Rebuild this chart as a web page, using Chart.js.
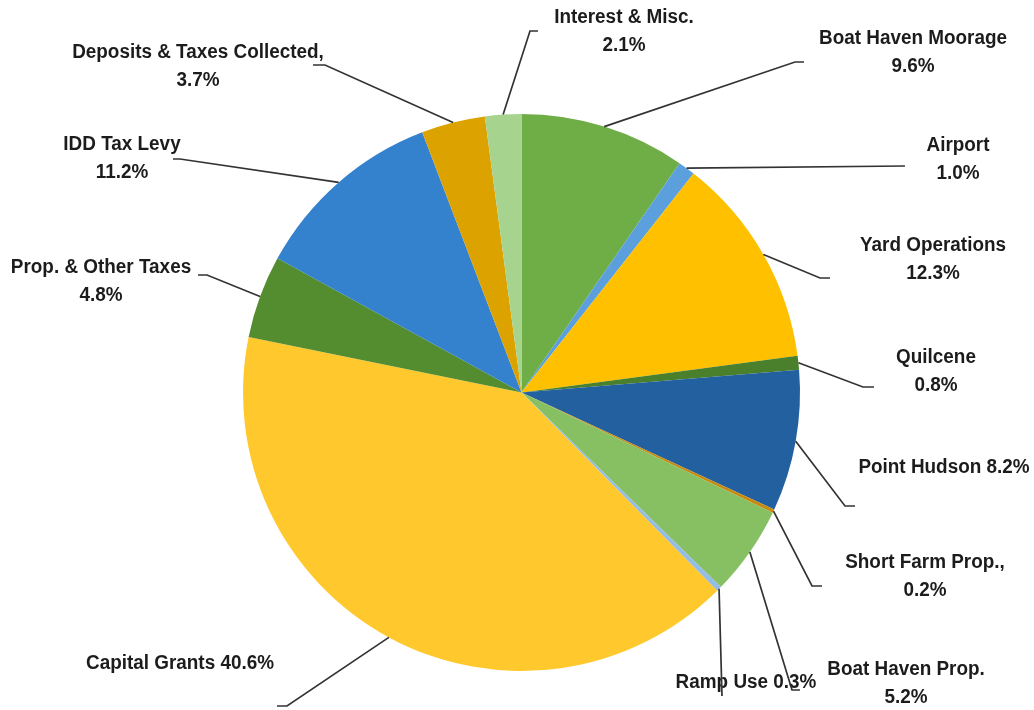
<!DOCTYPE html>
<html>
<head>
<meta charset="utf-8">
<title>Revenue Sources</title>
<script src="https://cdn.jsdelivr.net/npm/chart.js@4.4.1/dist/chart.umd.min.js"></script>
<style>
  html, body { margin: 0; padding: 0; background: #ffffff; }
  #wrap { width: 1034px; height: 710px; }
</style>
</head>
<body>
<div id="wrap"><canvas id="revenuePie" width="1034" height="710"></canvas></div>
<script>
// revenue shares, clockwise from 12 o'clock
const categories = [
  'Boat Haven Moorage', 'Airport', 'Yard Operations', 'Quilcene', 'Point Hudson',
  'Short Farm Prop.', 'Boat Haven Prop.', 'Ramp Use', 'Capital Grants',
  'Prop. & Other Taxes', 'IDD Tax Levy', 'Deposits & Taxes Collected', 'Interest & Misc.'
];
const shares = [9.6, 1.0, 12.3, 0.8, 8.2, 0.2, 5.2, 0.3, 40.6, 4.8, 11.2, 3.7, 2.1];
const sliceColors = [
  '#6fad46', '#5b9fdc', '#ffc000', '#4a7f2c', '#22609f', '#c98a10', '#86c062',
  '#93bde4', '#ffc92e', '#548c30', '#3481cd', '#dba200', '#a6d48f'
];

// where each callout goes: elbow of the leader, end of its short tail, text centre
const callouts = [
  { elbow: [795, 62],  tail: [804, 62],  at: [913, 38],  split: true },
  { elbow: [905, 166], tail: [905, 166], at: [958, 145], split: true },
  { elbow: [820, 278], tail: [830, 278], at: [933, 245], split: true },
  { elbow: [863, 387], tail: [874, 387], at: [936, 357], split: true },
  { elbow: [845, 506], tail: [855, 506], at: [944, 467], split: false },
  { elbow: [812, 586], tail: [822, 586], at: [925, 562], split: true, sep: ',' },
  { elbow: [792, 690], tail: [800, 690], at: [906, 669], split: true },
  { elbow: [722, 696], tail: [722, 696], at: [746, 682], split: false },
  { elbow: [287, 706], tail: [277, 706], at: [180, 663], split: false },
  { elbow: [207, 275], tail: [198, 275], at: [101, 267], split: true },
  { elbow: [180, 159], tail: [173, 159], at: [122, 144], split: true },
  { elbow: [325, 65],  tail: [313, 65],  at: [198, 52],  split: true, sep: ',' },
  { elbow: [530, 31],  tail: [538, 31],  at: [624, 17],  split: true }
];

// Liberation Sans squeezed a little sideways for a narrow bold look
const LABEL_FONT = 'bold 20px "Liberation Sans", Arial, sans-serif';
const SQUEEZE = 0.945;

function narrowText(ctx, text, x, y) {
  ctx.save();
  ctx.translate(x, y);
  ctx.scale(SQUEEZE, 1);
  ctx.fillText(text, 0, 0);
  ctx.restore();
}

const calloutPlugin = {
  id: 'callouts',
  afterDatasetsDraw(chart) {
    const ctx = chart.ctx;
    const arcs = chart.getDatasetMeta(0).data;
    ctx.save();
    ctx.font = LABEL_FONT;
    ctx.fillStyle = '#1c1c1c';
    ctx.textAlign = 'center';
    ctx.textBaseline = 'middle';
    arcs.forEach((arc, i) => {
      const c = callouts[i];
      const pct = shares[i].toFixed(1) + '%';
      const name = categories[i] + (c.sep || '');
      if (c.split) {
        narrowText(ctx, name, c.at[0], c.at[1]);
        narrowText(ctx, pct, c.at[0], c.at[1] + 28);
      } else {
        narrowText(ctx, name + ' ' + pct, c.at[0], c.at[1]);
      }
    });
    ctx.strokeStyle = '#333333';
    ctx.lineWidth = 1.7;
    arcs.forEach((arc, i) => {
      const c = callouts[i];
      const p = arc.getProps(['x', 'y', 'startAngle', 'endAngle', 'outerRadius'], true);
      const mid = (p.startAngle + p.endAngle) / 2;
      const sx = p.x + Math.cos(mid) * p.outerRadius;
      const sy = p.y + Math.sin(mid) * p.outerRadius;
      ctx.beginPath();
      ctx.moveTo(sx, sy);
      ctx.lineTo(c.elbow[0], c.elbow[1]);
      ctx.lineTo(c.tail[0], c.tail[1]);
      ctx.stroke();
    });
    ctx.restore();
  }
};

new Chart(document.getElementById('revenuePie'), {
  type: 'pie',
  data: {
    labels: categories,
    datasets: [{
      data: shares,
      backgroundColor: sliceColors,
      borderWidth: 0
    }]
  },
  options: {
    responsive: false,
    animation: false,
    layout: { padding: { left: 243, right: 234, top: 113, bottom: 38 } },
    plugins: {
      legend: { display: false },
      tooltip: { enabled: false }
    }
  },
  plugins: [calloutPlugin]
});
</script>
</body>
</html>
